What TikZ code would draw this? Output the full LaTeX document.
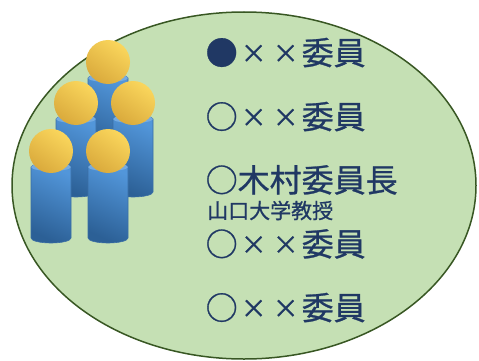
\documentclass[tikz,border=0pt]{standalone}
\usepackage{fontspec}
\newfontfamily\jp[FakeBold=0.8]{Noto Sans CJK JP}
\definecolor{navy}{RGB}{32,56,100}
\definecolor{leaf}{RGB}{197,224,180}
\definecolor{leafline}{RGB}{56,87,35}
\definecolor{bodylight}{RGB}{82,150,218}
\definecolor{bodydark}{RGB}{44,96,150}
\definecolor{bodyedge}{RGB}{58,110,165}
\definecolor{headlight}{RGB}{250,214,92}
\definecolor{headdark}{RGB}{218,170,60}
\newcommand\fw[1]{\makebox[1em]{#1}}
\newcommand\cross{\makebox[1em]{\raisebox{0.06em}{\scalebox{0.8}{×}}}}
% one person: #1 centre x, #2 head centre y, #3 body bottom y
\newcommand\drawperson[3]{%
  \shade[top color=bodylight, bottom color=bodydark, shading angle=-25, draw=bodyedge, line width=0.6pt]
    (#1-20,#2+16) -- (#1-20,#3)
    arc[start angle=180, end angle=0, x radius=20, y radius=5]
    -- (#1+20,#2+16)
    arc[start angle=0, end angle=-180, x radius=20, y radius=4] -- cycle;
  \fill[bodylight!80!white] (#1,#2+16) ellipse[x radius=20, y radius=4];
  \shade[top color=headlight, bottom color=headdark, shading angle=-35]
    (#1,#2) circle[radius=22];
}
\tikzset{
  item/.style={anchor=base west, inner sep=0pt, text=navy, font=\jp\fontsize{32}{32}\selectfont},
  note/.style={anchor=base west, inner sep=0pt, text=navy, font=\jp\fontsize{21}{21}\selectfont}
}
\begin{document}
\begin{tikzpicture}[x=1pt, y=-1pt]
  \useasboundingbox (0,0) rectangle (479,361);
  % committee boundary
  \draw[fill=leaf, draw=leafline, line width=1.5pt] (244,185.5) ellipse[x radius=232, y radius=173.5];
  % group of people, back to front
  \drawperson{108}{62}{150}
  \drawperson{76}{103}{192}
  \drawperson{133}{103}{192}
  \drawperson{51}{151}{238}
  \drawperson{108}{151}{238}
  % member list
  \node[item] (m1) at (205.5,64.7) {\fw{●}\cross\cross 委員};
  \node[item] (m2) at (205.5,128.7) {\fw{○}\cross\cross 委員};
  \node[item] (m3) at (205.5,192) {\fw{○}木村委員長};
  \node[note] (m3n) at (207,218.5) {山口大学教授};
  \node[item] (m4) at (205.5,256) {\fw{○}\cross\cross 委員};
  \node[item] (m5) at (205.5,319.7) {\fw{○}\cross\cross 委員};
\end{tikzpicture}
\end{document}
